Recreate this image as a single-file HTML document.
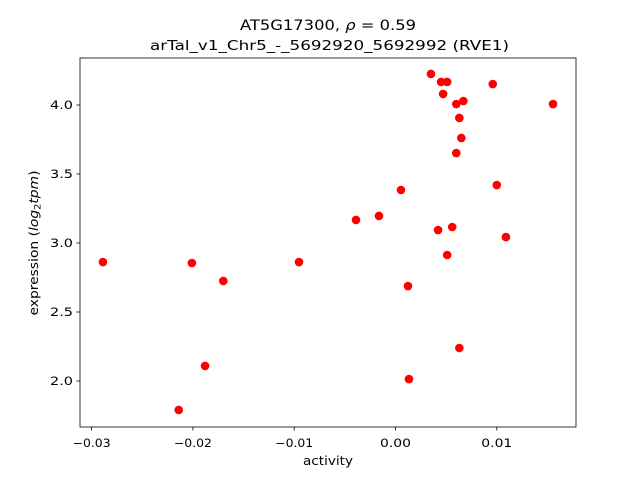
<!DOCTYPE html>
<html><head><meta charset="utf-8"><style>
body{margin:0;background:#fff;}
svg{display:block;font-family:"DejaVu Sans","Liberation Sans",sans-serif;}
</style></head><body>
<svg id="chart" width="640" height="480">
<text x="328" y="30" font-size="14" text-anchor="middle" textLength="176" lengthAdjust="spacingAndGlyphs">AT5G17300, <tspan font-style="italic">ρ</tspan> = 0.59</text>
<text x="329.5" y="50" font-size="13.5" text-anchor="middle" textLength="359" lengthAdjust="spacingAndGlyphs">arTal_v1_Chr5_-_5692920_5692992 (RVE1)</text>
<g id="plot"></g>
<rect x="80" y="58" width="496" height="369" fill="none" stroke="#000" stroke-width="0.8"/>
<text x="328" y="465" font-size="12" text-anchor="middle" textLength="50" lengthAdjust="spacingAndGlyphs">activity</text>
<text transform="translate(38,243) rotate(-90)" font-size="12" text-anchor="middle" textLength="145" lengthAdjust="spacingAndGlyphs">expression (<tspan font-style="italic">log</tspan><tspan font-size="8.5" dy="2.5">2</tspan><tspan dy="-2.5" font-style="italic">tpm</tspan>)</text>
</svg>
<script>
const activity=[-0.02888,-0.0201,-0.0170,-0.0188,-0.0214,-0.00953,-0.0039,-0.00163,0.00054,0.00123,0.00133,0.0035,0.0045,0.0051,0.0047,0.0042,0.0051,0.0056,0.0060,0.0067,0.0063,0.0065,0.0060,0.0063,0.0096,0.0100,0.0109,0.01555];
const expression=[2.862,2.855,2.725,2.109,1.790,2.862,3.167,3.196,3.384,2.688,2.014,4.225,4.167,4.167,4.08,3.094,2.913,3.116,4.007,4.029,3.906,3.761,3.652,2.239,4.152,3.420,3.043,4.007];
const xTicks=[-0.03,-0.02,-0.01,0.00,0.01];
const xTickLabels=["−0.03","−0.02","−0.01","0.00","0.01"];
const yTicks=[2.0,2.5,3.0,3.5,4.0];
const yTickLabels=["2.0","2.5","3.0","3.5","4.0"];
const xs=v=>395.5+v*10130;
const ys=v=>381-(v-2)*138;
const ns="http://www.w3.org/2000/svg";
const g=document.getElementById('plot');
function mk(t,a){const e=document.createElementNS(ns,t);for(const k in a)e.setAttribute(k,a[k]);g.appendChild(e);return e;}
xTicks.forEach((t,i)=>{
  const l=mk('line',{x1:xs(t),x2:xs(t),y1:427,y2:430.5,stroke:'#000','stroke-width':0.8});
  
  
  const lab=xTickLabels[i];
  const tx=mk('text',{x:xs(t),y:447,'font-size':11.5,'text-anchor':'middle',textLength:lab.length*7+3,lengthAdjust:'spacingAndGlyphs'});
  tx.textContent=lab;
  
  
});
yTicks.forEach((t,i)=>{
  const l=mk('line',{x1:76.5,x2:80,y1:ys(t),y2:ys(t),stroke:'#000','stroke-width':0.8});
  
  
  const tx=mk('text',{x:73,y:ys(t)+4,'font-size':11.5,'text-anchor':'end',textLength:23,lengthAdjust:'spacingAndGlyphs'});
  tx.textContent=yTickLabels[i];
  
  
});
activity.forEach((a,i)=>{
  const c=mk('circle',{cx:xs(a),cy:ys(expression[i]),r:4.3,fill:'#ff0000'});
  
  
});
</script>
</body></html>
